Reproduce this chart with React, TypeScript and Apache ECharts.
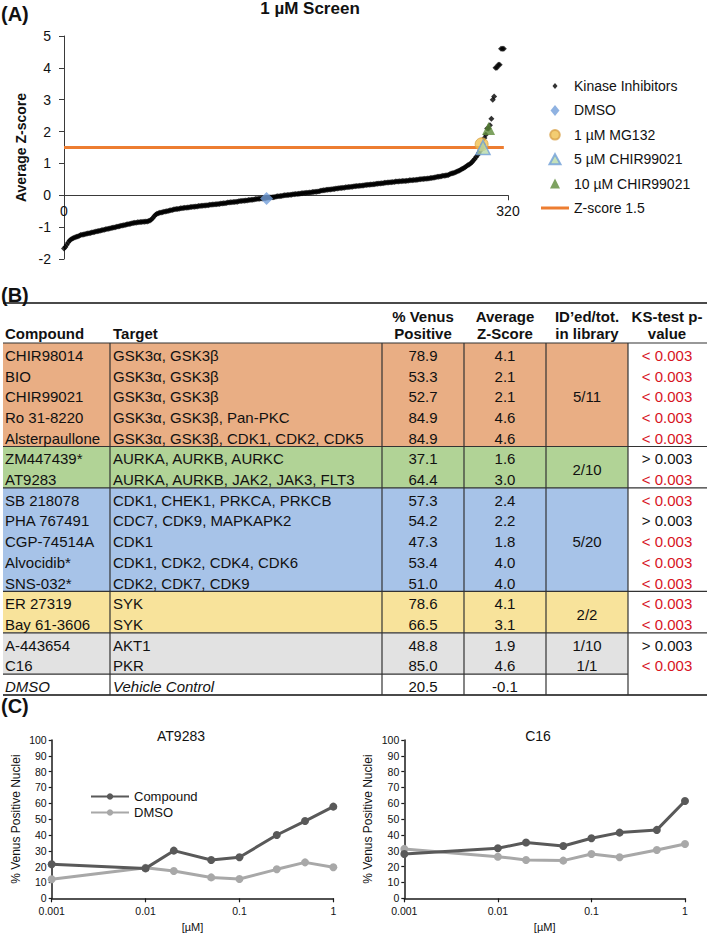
import React, { useEffect, useRef } from "react";
import * as echarts from "echarts";

const FONT = '"Liberation Sans", Arial, Helvetica, sans-serif';

// ---------- Panel A: 1 µM screen ----------
const screenTitle = "1 µM Screen";
const screenXTicks = [0, 320];
const screenYRange = [-2, 5];
const kinaseZ = [
  -1.67, -1.62, -1.55, -1.48, -1.42, -1.39, -1.36, -1.34, -1.32, -1.3,
  -1.29, -1.27, -1.25, -1.24, -1.23, -1.22, -1.21, -1.2, -1.19, -1.18,
  -1.17, -1.16, -1.15, -1.14, -1.13, -1.12, -1.11, -1.1, -1.09, -1.08,
  -1.07, -1.06, -1.05, -1.04, -1.03, -1.02, -1.01, -1.0, -0.99, -0.98,
  -0.97, -0.96, -0.95, -0.94, -0.93, -0.92, -0.91, -0.9, -0.89, -0.88,
  -0.87, -0.86, -0.86, -0.85, -0.85, -0.84, -0.84, -0.83, -0.83, -0.82,
  -0.82, -0.81, -0.79, -0.76, -0.71, -0.66, -0.61, -0.58, -0.56, -0.55,
  -0.54, -0.53, -0.52, -0.51, -0.5, -0.49, -0.48, -0.47, -0.46, -0.45,
  -0.44, -0.43, -0.43, -0.42, -0.41, -0.41, -0.4, -0.39, -0.39, -0.38,
  -0.38, -0.37, -0.37, -0.36, -0.36, -0.35, -0.35, -0.34, -0.34, -0.33,
  -0.33, -0.32, -0.32, -0.31, -0.31, -0.3, -0.3, -0.29, -0.29, -0.28,
  -0.28, -0.27, -0.27, -0.26, -0.26, -0.25, -0.25, -0.24, -0.23, -0.23,
  -0.22, -0.22, -0.21, -0.21, -0.2, -0.2, -0.19, -0.18, -0.18, -0.17,
  -0.17, -0.16, -0.16, -0.15, -0.15, -0.14, -0.14, -0.13, -0.12, -0.12,
  -0.11, -0.11, -0.1, -0.1, -0.09, -0.09, -0.08, -0.08, -0.07, -0.07,
  -0.06, -0.06, -0.05, -0.04, -0.03, -0.03, -0.02, -0.02, -0.01, 0.0,
  0.0, 0.01, 0.01, 0.02, 0.02, 0.03, 0.03, 0.04, 0.04, 0.05,
  0.05, 0.06, 0.06, 0.07, 0.07, 0.08, 0.08, 0.09, 0.09, 0.1,
  0.1, 0.11, 0.11, 0.12, 0.13, 0.14, 0.15, 0.16, 0.16, 0.17,
  0.17, 0.18, 0.18, 0.19, 0.2, 0.2, 0.21, 0.21, 0.22, 0.23,
  0.23, 0.24, 0.24, 0.25, 0.25, 0.26, 0.26, 0.27, 0.27, 0.28,
  0.28, 0.29, 0.29, 0.3, 0.3, 0.31, 0.31, 0.32, 0.32, 0.33,
  0.33, 0.34, 0.34, 0.35, 0.35, 0.36, 0.36, 0.37, 0.37, 0.38,
  0.38, 0.39, 0.39, 0.4, 0.4, 0.41, 0.41, 0.42, 0.42, 0.43,
  0.43, 0.43, 0.44, 0.44, 0.45, 0.45, 0.45, 0.46, 0.46, 0.47,
  0.47, 0.47, 0.48, 0.48, 0.49, 0.49, 0.5, 0.5, 0.51, 0.51,
  0.52, 0.52, 0.53, 0.53, 0.54, 0.54, 0.55, 0.56, 0.57, 0.58,
  0.58, 0.59, 0.6, 0.61, 0.61, 0.62, 0.63, 0.64, 0.66, 0.68,
  0.69, 0.7, 0.72, 0.74, 0.76, 0.78, 0.8, 0.83, 0.85, 0.88,
  0.91, 0.94, 0.97, 1.0, 1.04, 1.09, 1.14, 1.2, 1.26, 1.33,
  1.4, 1.47, 1.6, 1.8, 1.9, 2.1, 2.1, 2.2, 2.4, 3.0,
  3.1, 4.0, 4.0, 4.1, 4.1, 4.6, 4.6, 4.6,
];
const dmsoScreen = [[146, -0.1]];
const mg132Screen = [[301, 1.6]];
const chir5Screen = [[302, 1.5]];
const chir10Screen = [[306, 2.1]];
const zThreshold = 1.5;
const zThresholdSpan = [0, 317];
const screenLegend = [
  "Kinase Inhibitors",
  "DMSO",
  "1 µM MG132",
  "5 µM CHIR99021",
  "10 µM CHIR99021",
  "Z-score 1.5",
];

// ---------- Panel B: hit table ----------
const tableHeader1 = ["Compound", "Target", "% Venus", "Average", "ID’ed/tot.", "KS-test p-"];
const tableHeader2 = ["", "", "Positive", "Z-Score", "in library", "value"];
const compounds = [
  "CHIR98014", "BIO", "CHIR99021", "Ro 31-8220", "Alsterpaullone",
  "ZM447439*", "AT9283",
  "SB 218078", "PHA 767491", "CGP-74514A", "Alvocidib*", "SNS-032*",
  "ER 27319", "Bay 61-3606",
  "A-443654", "C16",
  "DMSO",
];
const targets = [
  "GSK3α, GSK3β", "GSK3α, GSK3β", "GSK3α, GSK3β", "GSK3α, GSK3β, Pan-PKC",
  "GSK3α, GSK3β, CDK1, CDK2, CDK5",
  "AURKA, AURKB, AURKC", "AURKA, AURKB, JAK2, JAK3, FLT3",
  "CDK1, CHEK1, PRKCA, PRKCB", "CDC7, CDK9, MAPKAPK2", "CDK1",
  "CDK1, CDK2, CDK4, CDK6", "CDK2, CDK7, CDK9",
  "SYK", "SYK",
  "AKT1", "PKR",
  "Vehicle Control",
];
const venusPositive = [
  "78.9", "53.3", "52.7", "84.9", "84.9", "37.1", "64.4", "57.3", "54.2",
  "47.3", "53.4", "51.0", "78.6", "66.5", "48.8", "85.0", "20.5",
];
const averageZ = [
  "4.1", "2.1", "2.1", "4.6", "4.6", "1.6", "3.0", "2.4", "2.2",
  "1.8", "4.0", "4.0", "4.1", "3.1", "1.9", "4.6", "-0.1",
];
const ksPValues = [
  "< 0.003", "< 0.003", "< 0.003", "< 0.003", "< 0.003",
  "> 0.003", "< 0.003",
  "< 0.003", "> 0.003", "< 0.003", "< 0.003", "< 0.003",
  "< 0.003", "< 0.003",
  "> 0.003", "< 0.003",
  "",
];
const italicRows = [16];
const groupStarts = [0, 5, 7, 12, 14, 16];
const groupSizes = [5, 2, 5, 2, 2, 1];
const groupFills = ["#E9AE84", "#B1D396", "#A7C3E8", "#F8E39B", "#E2E2E2", "#FFFFFF"];
const libraryLabels = ["5/11", "2/10", "5/20", "2/2", "1/10", "1/1"];
const libraryStarts = [0, 5, 7, 12, 14, 15];
const librarySizes = [5, 2, 5, 2, 1, 1];

// ---------- Panel C: dose responses ----------
const doseAT9283 = [0.001, 0.01, 0.02, 0.05, 0.1, 0.25, 0.5, 1];
const at9283Compound = [21.5, 18.9, 30.1, 24.2, 25.9, 40, 48.8, 57.9];
const at9283DMSO = [12, 19.3, 17.2, 13.2, 12.2, 18.3, 22.7, 19.6];
const doseC16 = [0.001, 0.01, 0.02, 0.05, 0.1, 0.2, 0.5, 1];
const c16Compound = [28, 31.6, 35.2, 33, 37.9, 41.5, 43.2, 61.5];
const c16DMSO = [31.2, 26.3, 24.2, 23.8, 28, 25.9, 30.5, 34.3];
const doseTitles = ["AT9283", "C16"];

const DMSO_C = "DMSO vehicle";

// legend icon outlines (zero-length corner sub-paths set the icon's box so the mark keeps its size)
const legendIcons: Record<string, string> = {
  "Kinase Inhibitors": "path://M-6,-6L-6,-6M6,6L6,6M0,-3L2.5,0L0,3L-2.5,0Z",
  DMSO: "path://M-6,-6L-6,-6M6,6L6,6M0,-5.5L4.5,0L0,5.5L-4.5,0Z",
  "1 µM MG132": "path://M-6,-6L-6,-6M6,6L6,6M0,-4.8A4.8,4.8,0,1,1,0,4.8A4.8,4.8,0,1,1,0,-4.8Z",
  "5 µM CHIR99021": "path://M-6,-6L-6,-6M6,6L6,6M0,-5L5.5,5L-5.5,5Z",
  "10 µM CHIR99021": "path://M-6,-6L-6,-6M6,6L6,6M0,-5L5,5L-5,5Z",
  "Z-score 1.5": "path://M0,0L28,0L28,3L0,3Z",
};

function pairs(xs: number[], ys: number[]) {
  return xs.map((x, i) => [x, ys[i]]);
}

function buildTableGraphics() {
  const els: any[] = [];
  const rowH = 20.7;
  const top0 = 343;
  const rowTop = (i: number) => top0 + rowH * i;
  const left = 3;
  const right = 707;
  const ksLeft = 628;
  const colLines = [110, 382, 464, 546, 628];
  const txt = (text: string, x: number, y: number, align: string, opts: any = {}) => ({
    type: "text",
    x,
    y,
    silent: true,
    style: {
      text,
      fill: opts.fill || "#111",
      fontSize: opts.size || 15,
      fontFamily: FONT,
      fontWeight: opts.bold ? "bold" : "normal",
      fontStyle: opts.italic ? "italic" : "normal",
      align,
      verticalAlign: "middle",
    },
  });
  groupStarts.forEach((s, g) => {
    els.push({
      type: "rect",
      silent: true,
      shape: { x: left, y: rowTop(s), width: ksLeft - left, height: rowH * groupSizes[g] },
      style: { fill: groupFills[g] },
    });
  });
  els.push({ type: "line", shape: { x1: left, y1: 303, x2: right, y2: 303 }, style: { stroke: "#4a4a4a", lineWidth: 2 } });
  els.push({ type: "line", shape: { x1: left, y1: top0, x2: right, y2: top0 }, style: { stroke: "#333", lineWidth: 1.2 } });
  const bottom = rowTop(compounds.length);
  els.push({ type: "line", shape: { x1: left, y1: bottom, x2: right, y2: bottom }, style: { stroke: "#4a4a4a", lineWidth: 2 } });
  groupStarts.slice(1).forEach((s, k) => {
    const y = rowTop(s);
    const isLast = k === groupStarts.length - 2;
    els.push({
      type: "line",
      shape: { x1: left, y1: y, x2: isLast ? ksLeft : right, y2: y },
      style: { stroke: "#333", lineWidth: 1.2 },
    });
  });
  colLines.forEach((x) => {
    els.push({ type: "line", shape: { x1: x, y1: top0, x2: x, y2: bottom }, style: { stroke: "#333", lineWidth: 1.2 } });
  });
  const headX = [5, 113, 423, 505, 587, 667];
  const headAlign = ["left", "left", "center", "center", "center", "center"];
  tableHeader1.forEach((h, c) => {
    if (tableHeader2[c]) {
      els.push(txt(h, headX[c], 316, headAlign[c], { bold: true }));
      els.push(txt(tableHeader2[c], headX[c], 333, headAlign[c], { bold: true }));
    } else {
      els.push(txt(h, headX[c], 333, headAlign[c], { bold: true }));
    }
  });
  compounds.forEach((name, i) => {
    const y = rowTop(i) + 12.3;
    const it = italicRows.includes(i);
    els.push(txt(name, 5, y, "left", { italic: it }));
    els.push(txt(targets[i], 113, y, "left", { italic: it }));
    els.push(txt(venusPositive[i], 423, y, "center"));
    els.push(txt(averageZ[i], 505, y, "center"));
    if (ksPValues[i]) {
      els.push(
        txt(ksPValues[i], 667, y, "center", {
          fill: ksPValues[i].startsWith("<") ? "#D7141E" : "#111",
        })
      );
    }
  });
  libraryLabels.forEach((lab, k) => {
    const y = (rowTop(libraryStarts[k]) + rowTop(libraryStarts[k] + librarySizes[k])) / 2 + 2;
    els.push(txt(lab, 587, y, "center"));
  });
  els.push(txt("(A)", 1, 14, "left", { bold: true, size: 20 }));
  els.push(txt("(B)", 1, 295, "left", { bold: true, size: 20 }));
  els.push(txt("(C)", 1, 706, "left", { bold: true, size: 20 }));
  return els;
}

export default function App() {
  const ref = useRef<HTMLDivElement>(null);
  useEffect(() => {
    if (!ref.current) return;
    const chart = echarts.init(ref.current, null, { renderer: "svg" });
    const axisText = { color: "#111", fontFamily: FONT };
    const gridA = { left: 64, top: 36, width: 444, height: 223 };
    // distance (px) from the grid bottom (y = min) up to y = 0 on the screen axis
    const zeroOffset = ((0 - screenYRange[0]) / (screenYRange[1] - screenYRange[0])) * gridA.height;
    const doseX = (gridIndex: number) => ({
      type: "log",
      gridIndex,
      logBase: 10,
      min: 0.001,
      max: 1,
      name: "[µM]",
      nameLocation: "middle",
      nameGap: 23,
      nameTextStyle: { ...axisText, fontSize: 11 },
      axisLine: { lineStyle: { color: "#1a1a1a", width: 1.5 } },
      axisTick: { length: 4, lineStyle: { color: "#1a1a1a", width: 1.2 } },
      minorTick: { show: false },
      splitLine: { show: false },
      axisLabel: { ...axisText, fontSize: 10.5, margin: 7 },
    });
    const doseY = (gridIndex: number) => ({
      type: "value",
      gridIndex,
      min: 0,
      max: 100,
      interval: 10,
      name: "% Venus Positive Nuclei",
      nameLocation: "middle",
      nameGap: 30,
      nameTextStyle: { ...axisText, fontSize: 12 },
      axisLine: { show: true, lineStyle: { color: "#1a1a1a", width: 1.5 } },
      axisTick: { show: true, length: 3, lineStyle: { color: "#1a1a1a", width: 1.2 } },
      splitLine: { show: false },
      axisLabel: { ...axisText, fontSize: 10.5, margin: 5 },
    });
    const doseLine = (name: string, data: number[][], color: string, idx: number) => ({
      name,
      type: "line",
      xAxisIndex: idx,
      yAxisIndex: idx,
      data,
      symbol: "circle",
      symbolSize: 8,
      lineStyle: { color, width: 3 },
      itemStyle: { color },
      z: name === DMSO_C ? 2 : 3,
    });

    const option: any = {
      animation: false,
      backgroundColor: "#ffffff",
      textStyle: { fontFamily: FONT },
      title: [
        {
          text: screenTitle,
          left: 310,
          top: 0,
          textAlign: "center",
          padding: 0,
          textStyle: { fontSize: 17, fontWeight: "bold", color: "#111", fontFamily: FONT },
        },
        {
          text: doseTitles[0],
          left: 181,
          top: 729,
          textAlign: "center",
          padding: 0,
          textStyle: { fontSize: 14, fontWeight: "normal", color: "#111", fontFamily: FONT },
        },
        {
          text: doseTitles[1],
          left: 538,
          top: 729,
          textAlign: "center",
          padding: 0,
          textStyle: { fontSize: 14, fontWeight: "normal", color: "#111", fontFamily: FONT },
        },
      ],
      legend: [
        {
          orient: "vertical",
          left: 541,
          top: 79,
          padding: 0,
          itemWidth: 28,
          itemHeight: 12,
          itemGap: 10.4,
          selectedMode: false,
          textStyle: { fontSize: 14, lineHeight: 14, color: "#111", fontFamily: FONT },
          data: screenLegend.map((n) => ({ name: n, icon: legendIcons[n] })),
        },
        {
          orient: "vertical",
          left: 90,
          top: 790,
          padding: 0,
          itemWidth: 38,
          itemHeight: 8,
          itemGap: 3,
          selectedMode: false,
          formatter: (n: string) => (n === DMSO_C ? "DMSO" : n),
          textStyle: { fontSize: 13, lineHeight: 13, color: "#111", fontFamily: FONT },
          data: ["Compound", DMSO_C],
        },
      ],
      grid: [
        { ...gridA, outerBoundsMode: "none", containLabel: false },
        { left: 51.7, top: 740, width: 281.6, height: 158.3, outerBoundsMode: "none", containLabel: false },
        { left: 404.3, top: 740, width: 280.7, height: 158.3, outerBoundsMode: "none", containLabel: false },
      ],
      xAxis: [
        {
          type: "value",
          gridIndex: 0,
          min: screenXTicks[0],
          max: screenXTicks[1],
          interval: screenXTicks[1] - screenXTicks[0],
          offset: -zeroOffset,
          axisLine: { onZero: false, lineStyle: { color: "#3a3a3a", width: 1 } },
          axisTick: { show: true, length: 5, lineStyle: { color: "#3a3a3a" } },
          splitLine: { show: false },
          axisLabel: { ...axisText, fontSize: 14, margin: 9 },
        },
        doseX(1),
        doseX(2),
      ],
      yAxis: [
        {
          type: "value",
          gridIndex: 0,
          min: screenYRange[0],
          max: screenYRange[1],
          interval: 1,
          name: "Average Z-score",
          nameLocation: "middle",
          nameGap: 23,
          nameTextStyle: { ...axisText, fontSize: 14, fontWeight: "bold" },
          axisLine: { show: true, lineStyle: { color: "#3a3a3a", width: 1 } },
          axisTick: { show: true, length: 5, lineStyle: { color: "#3a3a3a" } },
          splitLine: { show: false },
          axisLabel: { ...axisText, fontSize: 14, margin: 13 },
        },
        doseY(1),
        doseY(2),
      ],
      series: [
        {
          name: "Z-score 1.5",
          type: "line",
          xAxisIndex: 0,
          yAxisIndex: 0,
          data: zThresholdSpan.map((x) => [x, zThreshold]),
          symbol: "none",
          lineStyle: { color: "#ED7D31", width: 3 },
          itemStyle: { color: "#ED7D31" },
          z: 1,
        },
        {
          name: "Kinase Inhibitors",
          type: "scatter",
          xAxisIndex: 0,
          yAxisIndex: 0,
          data: kinaseZ.map((v, i) => [i, v]),
          symbol: "diamond",
          symbolSize: 6,
          itemStyle: { color: "#000000" },
          z: 2,
        },
        {
          name: "DMSO",
          type: "scatter",
          xAxisIndex: 0,
          yAxisIndex: 0,
          data: dmsoScreen,
          symbol: "diamond",
          symbolSize: 13,
          itemStyle: { color: "#739FD9" },
          z: 3,
        },
        {
          name: "1 µM MG132",
          type: "scatter",
          xAxisIndex: 0,
          yAxisIndex: 0,
          data: mg132Screen,
          symbol: "circle",
          symbolSize: 13,
          itemStyle: { color: "#F0C04F", borderColor: "#D9A24A", borderWidth: 1 },
          z: 3,
        },
        {
          name: "5 µM CHIR99021",
          type: "scatter",
          xAxisIndex: 0,
          yAxisIndex: 0,
          data: chir5Screen,
          symbol: "triangle",
          symbolSize: 14,
          itemStyle: { color: "#B6D9A9", borderColor: "#6F9FD8", borderWidth: 1.5 },
          z: 4,
        },
        {
          name: "10 µM CHIR99021",
          type: "scatter",
          xAxisIndex: 0,
          yAxisIndex: 0,
          data: chir10Screen,
          symbol: "triangle",
          symbolSize: 13,
          itemStyle: { color: "#5E8B3A" },
          z: 5,
        },
        doseLine("Compound", pairs(doseAT9283, at9283Compound), "#595959", 1),
        doseLine(DMSO_C, pairs(doseAT9283, at9283DMSO), "#A8A8A8", 1),
        doseLine("Compound", pairs(doseC16, c16Compound), "#595959", 2),
        doseLine(DMSO_C, pairs(doseC16, c16DMSO), "#A8A8A8", 2),
      ],
      graphic: { elements: buildTableGraphics() },
    };
    chart.setOption(option);
    return () => chart.dispose();
  }, []);
  return (
    <div
      ref={ref}
      style={{ position: "absolute", left: 0, top: 0, width: 709, height: 940, background: "#fff" }}
    />
  );
}
